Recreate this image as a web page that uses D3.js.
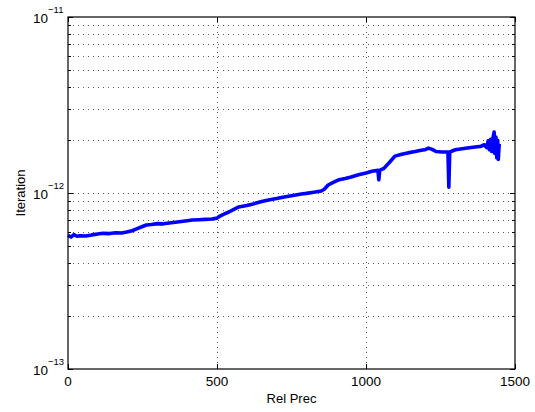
<!DOCTYPE html>
<html>
<head>
<meta charset="utf-8">
<script src="https://cdn.jsdelivr.net/npm/d3@7"></script>
<style>
  html, body { margin: 0; padding: 0; background: #fff; }
  svg { display: block; font-family: "Liberation Sans", Arial, Helvetica, sans-serif; }
</style>
</head>
<body>
<svg id="chart" width="535" height="412"></svg>
<script>
// ---- data ----
const relPrec = [0, 10, 20, 30, 40, 60, 80, 100, 117, 140, 160, 180, 197, 215, 230, 250, 263, 280, 300, 320,
  340, 360, 380, 400, 417, 440, 460, 483, 500, 510, 525, 540, 555, 573, 600, 625, 650, 673, 700, 725,
  750, 783, 800, 825, 850, 860, 873, 890, 910, 930, 950, 975, 1000, 1020, 1040, 1043, 1046, 1060, 1080, 1097,
  1120, 1140, 1165, 1185, 1197, 1210, 1222, 1235, 1255, 1275, 1278, 1281, 1300, 1317, 1340, 1360, 1373, 1385, 1397, 1405,
  1410, 1414, 1418, 1422, 1426, 1430, 1432, 1436, 1439, 1442, 1444, 1447];
const iteration = [5.75e-13, 5.62e-13, 5.80e-13, 5.68e-13, 5.72e-13, 5.70e-13, 5.78e-13, 5.85e-13, 5.90e-13, 5.88e-13,
  5.95e-13, 5.92e-13, 6.00e-13, 6.10e-13, 6.25e-13, 6.45e-13, 6.58e-13, 6.62e-13, 6.70e-13, 6.68e-13,
  6.75e-13, 6.82e-13, 6.88e-13, 6.95e-13, 7.02e-13, 7.05e-13, 7.08e-13, 7.11e-13, 7.20e-13, 7.40e-13,
  7.60e-13, 7.80e-13, 8.05e-13, 8.33e-13, 8.50e-13, 8.70e-13, 8.95e-13, 9.13e-13, 9.30e-13, 9.50e-13,
  9.65e-13, 9.87e-13, 9.95e-13, 1.01e-12, 1.027e-12, 1.05e-12, 1.11e-12, 1.15e-12, 1.19e-12, 1.21e-12,
  1.233e-12, 1.27e-12, 1.30e-12, 1.33e-12, 1.345e-12, 1.19e-12, 1.345e-12, 1.38e-12, 1.50e-12, 1.62e-12,
  1.66e-12, 1.69e-12, 1.72e-12, 1.75e-12, 1.76e-12, 1.80e-12, 1.77e-12, 1.72e-12, 1.71e-12, 1.71e-12,
  1.08e-12, 1.71e-12, 1.76e-12, 1.78e-12, 1.80e-12, 1.82e-12, 1.83e-12, 1.84e-12, 1.88e-12, 1.81e-12,
  1.98e-12, 1.76e-12, 2.02e-12, 1.72e-12, 2.06e-12, 2.22e-12, 1.68e-12, 2.08e-12, 1.58e-12, 1.99e-12,
  1.55e-12, 1.90e-12];
const xTicks = [0, 500, 1000, 1500];
const yDecades = [1e-13, 1e-12, 1e-11];
const yDecadeExps = ["\u221213", "\u221212", "\u221211"];
const xLabel = "Rel Prec";
const yLabel = "Iteration";

// ---- layout ----
const L = 68, R = 515, T = 17, B = 369;
const svg = d3.select("#chart");
const x = d3.scaleLinear().domain([0, 1500]).range([L, R]);
const y = d3.scaleLog().domain([1e-13, 1e-11]).range([B, T]);

// minor log positions
const minorVals = [];
[1e-13, 1e-12].forEach(d => { for (let k = 2; k <= 9; k++) minorVals.push(d * k); });

// grid
const grid = svg.append("g").attr("stroke", "#222").attr("stroke-width", 1)
  .attr("stroke-dasharray", "1,4").attr("opacity", 0.75);
xTicks.filter(v => v > 0 && v < 1500).forEach(v => {
  grid.append("line").attr("x1", Math.round(x(v)) + 0.5).attr("x2", Math.round(x(v)) + 0.5)
    .attr("y1", T).attr("y2", B);
});
minorVals.concat([1e-12]).forEach(v => {
  grid.append("line").attr("x1", L).attr("x2", R)
    .attr("y1", Math.round(y(v)) + 0.5).attr("y2", Math.round(y(v)) + 0.5);
});

// data line
const line = d3.line().x((d, i) => x(relPrec[i])).y(d => y(d));
svg.append("path").datum(iteration)
  .attr("d", line)
  .attr("fill", "none").attr("stroke", "#0000ff").attr("stroke-width", 3.6)
  .attr("stroke-linejoin", "round").attr("stroke-linecap", "butt");

// axes box
svg.append("rect").attr("x", L).attr("y", T).attr("width", R - L).attr("height", B - T)
  .attr("fill", "none").attr("stroke", "#000").attr("stroke-width", 1.2);

// ticks
const ticks = svg.append("g").attr("stroke", "#000").attr("stroke-width", 1);
xTicks.forEach(v => {
  const px = Math.round(x(v)) + 0.5;
  ticks.append("line").attr("x1", px).attr("x2", px).attr("y1", B).attr("y2", B - 5);
  ticks.append("line").attr("x1", px).attr("x2", px).attr("y1", T).attr("y2", T + 5);
});
yDecades.forEach(v => {
  const py = Math.round(y(v)) + 0.5;
  ticks.append("line").attr("x1", L).attr("x2", L + 5).attr("y1", py).attr("y2", py);
  ticks.append("line").attr("x1", R).attr("x2", R - 5).attr("y1", py).attr("y2", py);
});
minorVals.forEach(v => {
  const py = Math.round(y(v)) + 0.5;
  ticks.append("line").attr("x1", L).attr("x2", L + 3).attr("y1", py).attr("y2", py);
  ticks.append("line").attr("x1", R).attr("x2", R - 3).attr("y1", py).attr("y2", py);
});

// x tick labels
svg.append("g").selectAll("text").data(xTicks).join("text")
  .attr("x", d => x(d)).attr("y", B + 17)
  .attr("text-anchor", "middle").attr("font-size", 13.5).attr("fill", "#000")
  .text(d => d);

// y tick labels (10^exp)
yDecades.forEach((v, i) => {
  const py = y(v);
  const t = svg.append("text").attr("x", L - 20).attr("y", py + 6)
    .attr("text-anchor", "end").attr("font-size", 13.5).attr("fill", "#000");
  t.text("10");
  svg.append("text").attr("x", L - 20).attr("y", py - 4)
    .attr("text-anchor", "start").attr("font-size", 9.5).attr("fill", "#000")
    .text(yDecadeExps[i]);
});

// axis labels
svg.append("text").attr("x", (L + R) / 2).attr("y", B + 34)
  .attr("text-anchor", "middle").attr("font-size", 13).attr("fill", "#000").text(xLabel);
svg.append("text").attr("transform", `translate(25,${(T + B) / 2}) rotate(-90)`)
  .attr("text-anchor", "middle").attr("font-size", 13).attr("fill", "#000").text(yLabel);
</script>
</body>
</html>
